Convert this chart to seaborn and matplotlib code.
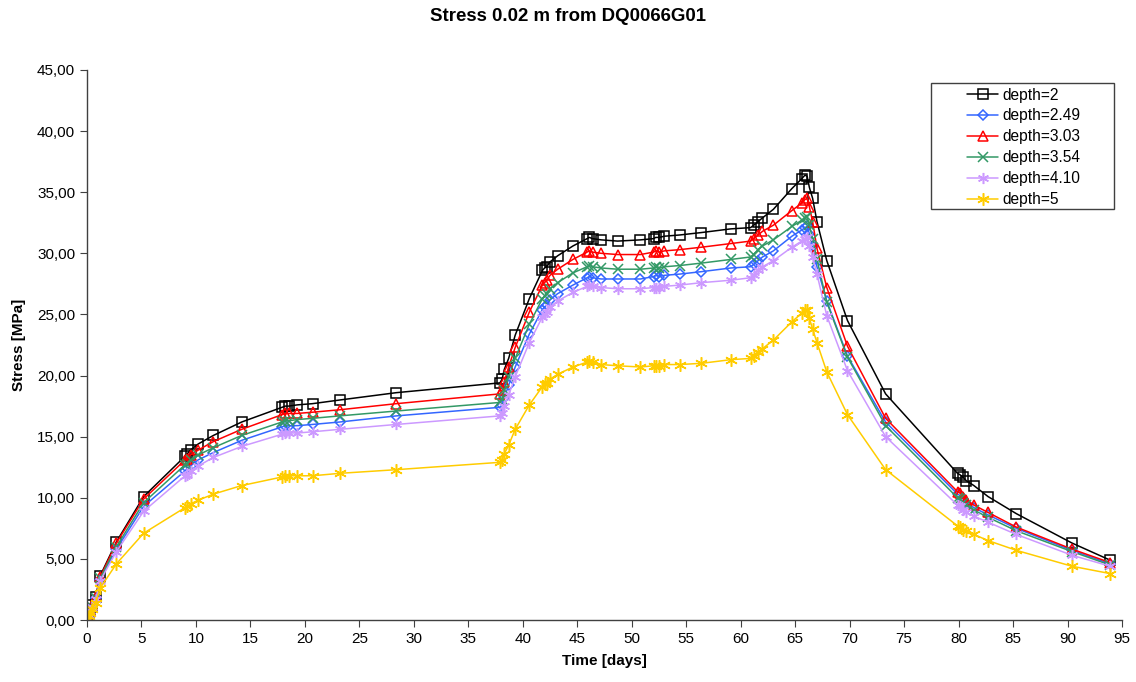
import matplotlib
matplotlib.use("Agg")
import matplotlib.pyplot as plt
from matplotlib.ticker import FuncFormatter, MultipleLocator
from matplotlib.patches import Rectangle
import seaborn as sns
import pandas as pd

time_days = [0, 0.15, 0.3, 0.5, 0.8, 1.2, 2.7, 5.2, 9.0, 9.2,
             9.5, 10.2, 11.6, 14.2, 17.9, 18.2, 18.5, 19.3, 20.7, 23.2,
             28.4, 37.9, 38.1, 38.3, 38.7, 39.3, 40.6, 41.8, 42.0, 42.2,
             42.5, 43.2, 44.6, 45.9, 46.1, 46.4, 47.2, 48.7, 50.8, 52.0,
             52.2, 52.5, 53.0, 54.4, 56.4, 59.1, 60.9, 61.2, 61.6, 62.0,
             63.0, 64.7, 65.6, 65.9, 66.1, 66.3, 66.6, 67.0, 67.9, 69.8,
             73.3, 79.9, 80.1, 80.4, 80.7, 81.4, 82.7, 85.3, 90.4, 93.9]

depth_2 = [0, 0.4, 0.8, 1.2, 1.9, 3.6, 6.4, 10.1, 13.4, 13.6,
           13.9, 14.4, 15.1, 16.2, 17.4, 17.5, 17.5, 17.6, 17.7, 18.0,
           18.6, 19.4, 19.7, 20.5, 21.4, 23.3, 26.3, 28.6, 28.8, 28.9,
           29.3, 29.8, 30.6, 31.2, 31.3, 31.2, 31.1, 31.0, 31.1, 31.2,
           31.3, 31.3, 31.4, 31.5, 31.7, 32.0, 32.1, 32.3, 32.6, 32.9,
           33.6, 35.3, 36.1, 36.4, 36.3, 35.4, 34.5, 32.6, 29.4, 24.5,
           18.5, 12.0, 11.9, 11.7, 11.4, 11.0, 10.1, 8.7, 6.3, 4.9]

depth_249 = [0, 0.4, 0.7, 1.1, 1.8, 3.3, 5.8, 9.3, 12.2, 12.4,
             12.6, 13.1, 13.7, 14.7, 15.8, 15.9, 15.9, 15.9, 16.0, 16.2,
             16.7, 17.4, 17.6, 18.2, 19.2, 20.7, 23.4, 25.4, 25.6, 25.8,
             26.2, 26.7, 27.4, 28.0, 28.1, 28.0, 27.9, 27.9, 27.9, 28.1,
             28.2, 28.1, 28.2, 28.3, 28.5, 28.8, 28.9, 29.1, 29.4, 29.7,
             30.2, 31.4, 31.9, 32.1, 32.2, 31.6, 30.6, 28.9, 26.1, 21.6,
             16.2, 10.3, 10.2, 9.9, 9.6, 9.2, 8.6, 7.5, 5.7, 4.6]

depth_303 = [0, 0.4, 0.8, 1.2, 1.9, 3.5, 6.3, 9.9, 13.1, 13.2,
             13.5, 13.9, 14.6, 15.6, 16.8, 16.9, 16.9, 16.9, 17.0, 17.2,
             17.7, 18.5, 18.8, 19.5, 20.7, 22.3, 25.2, 27.4, 27.6, 27.8,
             28.2, 28.7, 29.5, 30.1, 30.2, 30.1, 30.0, 29.9, 29.9, 30.1,
             30.2, 30.1, 30.2, 30.3, 30.5, 30.8, 31.0, 31.2, 31.5, 31.8,
             32.3, 33.5, 34.1, 34.4, 34.5, 33.8, 32.6, 30.4, 27.2, 22.4,
             16.5, 10.5, 10.4, 10.1, 9.8, 9.4, 8.8, 7.6, 5.8, 4.7]

depth_354 = [0, 0.4, 0.7, 1.1, 1.8, 3.4, 6.0, 9.6, 12.7, 12.8,
             13.1, 13.5, 14.1, 15.1, 16.2, 16.3, 16.3, 16.4, 16.5, 16.7,
             17.1, 17.8, 18.1, 18.8, 19.9, 21.4, 24.2, 26.3, 26.5, 26.7,
             27.1, 27.6, 28.4, 28.9, 29.0, 28.9, 28.8, 28.7, 28.7, 28.8,
             28.9, 28.8, 28.9, 29.0, 29.2, 29.5, 29.7, 29.9, 30.3, 30.6,
             31.1, 32.2, 32.7, 32.9, 33.0, 32.3, 31.2, 29.5, 26.0, 21.5,
             15.9, 10.0, 9.9, 9.6, 9.4, 9.0, 8.4, 7.3, 5.6, 4.5]

depth_410 = [0, 0.4, 0.7, 1.1, 1.7, 3.2, 5.6, 8.9, 11.8, 11.9,
             12.2, 12.6, 13.3, 14.2, 15.2, 15.3, 15.3, 15.3, 15.4, 15.6,
             16.0, 16.7, 16.9, 17.5, 18.4, 19.9, 22.7, 24.8, 25.0, 25.2,
             25.6, 26.1, 26.8, 27.3, 27.4, 27.3, 27.2, 27.1, 27.1, 27.2,
             27.2, 27.2, 27.3, 27.4, 27.6, 27.8, 28.0, 28.2, 28.6, 28.9,
             29.4, 30.5, 31.0, 31.2, 31.3, 30.6, 29.7, 28.3, 24.9, 20.4,
             15.0, 9.4, 9.3, 9.0, 8.8, 8.5, 8.0, 7.0, 5.3, 4.4]

depth_5 = [0, 0.3, 0.6, 0.9, 1.4, 2.6, 4.6, 7.1, 9.2, 9.3,
           9.5, 9.8, 10.3, 11.0, 11.7, 11.8, 11.8, 11.8, 11.8, 12.0,
           12.3, 12.9, 13.1, 13.6, 14.3, 15.6, 17.6, 19.1, 19.3, 19.4,
           19.7, 20.1, 20.7, 21.1, 21.2, 21.1, 20.9, 20.8, 20.7, 20.8,
           20.8, 20.8, 20.9, 20.9, 21.0, 21.3, 21.4, 21.6, 21.9, 22.2,
           22.9, 24.4, 25.1, 25.4, 25.4, 24.7, 23.8, 22.7, 20.3, 16.8,
           12.3, 7.7, 7.6, 7.4, 7.3, 7.0, 6.5, 5.7, 4.4, 3.8]

labels = ["depth=2", "depth=2.49", "depth=3.03", "depth=3.54", "depth=4.10", "depth=5"]
series = [depth_2, depth_249, depth_303, depth_354, depth_410, depth_5]

sns.set_theme(style="white")
plt.rcParams['font.family'] = ['Liberation Sans', 'DejaVu Sans']
plt.rcParams['text.color'] = 'black'
plt.rcParams['axes.labelcolor'] = 'black'
plt.rcParams['xtick.color'] = 'black'
plt.rcParams['ytick.color'] = 'black'

colors = ["#000000", "#3366FF", "#FF0000", "#339966", "#CC99FF", "#FFCC00"]
markers = ["s", "D", "^", "x", (6, 2, 0), (6, 2, 0)]
msizes = [7.5, 5, 7.5, 7, 8, 9]

fig = plt.figure(figsize=(11.36, 6.82), dpi=100)
ax = fig.add_axes([0.0766, 0.0909, 0.9111, 0.8065])

for lab, vals, c, m, ms in zip(labels, series, colors, markers, msizes):
    df = pd.DataFrame({"Time": time_days, "Stress": vals})
    sns.lineplot(data=df, x="Time", y="Stress", ax=ax, color=c, marker=m,
                 markersize=ms, markerfacecolor="none", markeredgecolor=c,
                 markeredgewidth=1.1, linewidth=1.1, label=lab)

ax.set_xlim(0, 95)
ax.set_ylim(0, 45)
ax.xaxis.set_major_locator(MultipleLocator(5))
ax.yaxis.set_major_locator(MultipleLocator(5))
ax.yaxis.set_major_formatter(FuncFormatter(lambda v, p: f"{v:.2f}".replace(".", ",")))
ax.tick_params(axis="both", which="major", direction="out", length=5, width=0.8,
               labelsize=11, bottom=True, left=True, colors="black",
               color="#404040")
for s in ["top", "right"]:
    ax.spines[s].set_visible(False)
for s in ["left", "bottom"]:
    ax.spines[s].set_color("#404040")
    ax.spines[s].set_linewidth(1.0)

ax.set_xlabel("Time [days]", fontsize=11, fontweight="bold", labelpad=6)
ax.set_ylabel("Stress [MPa]", fontsize=11, fontweight="bold", labelpad=8)
fig.suptitle("Stress 0.02 m from DQ0066G01", fontsize=13.4, fontweight="bold", y=0.988)

# legend box (Excel style, wide padding)
box = Rectangle((0.8155, 0.7473), 0.1768, 0.229, transform=ax.transAxes,
                facecolor="white", edgecolor="#404040", linewidth=1.0,
                zorder=4, clip_on=False)
ax.add_patch(box)
leg = ax.legend(loc="upper left", bbox_to_anchor=(0.8502, 0.968), fontsize=11.2,
                frameon=False, handlelength=2.0, borderpad=0.0, labelspacing=0.38,
                handletextpad=0.26, borderaxespad=0.0)
leg.set_zorder(5)

fig.savefig("out.png", dpi=100, facecolor="white")
